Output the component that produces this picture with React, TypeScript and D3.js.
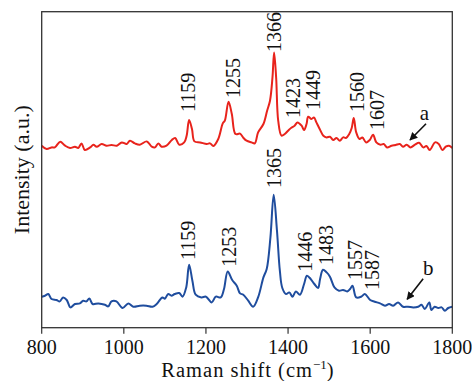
import { useMemo } from "react";
import * as d3 from "d3";

// spectrum a (red): Raman shift (cm-1) / intensity (a.u.)
const redShift = [800, 812, 824, 832, 845, 857, 869, 881, 889, 897, 905, 918, 926, 934, 946, 958, 970, 983, 995, 1007, 1015, 1027, 1039, 1056, 1068, 1076, 1084, 1092, 1104, 1117, 1125, 1135, 1147, 1153, 1159, 1166, 1172, 1186, 1202, 1210, 1218, 1230, 1241, 1246, 1255, 1263, 1272, 1283, 1291, 1299, 1311, 1319, 1327, 1340, 1349, 1356, 1362, 1366, 1371, 1376, 1384, 1392, 1400, 1408, 1416, 1423, 1433, 1439, 1445, 1449, 1457, 1463, 1469, 1477, 1486, 1494, 1502, 1510, 1518, 1526, 1534, 1541, 1549, 1555, 1560, 1566, 1574, 1581, 1590, 1599, 1607, 1615, 1625, 1633, 1641, 1652, 1662, 1672, 1680, 1689, 1698, 1709, 1719, 1729, 1737, 1745, 1758, 1767, 1776, 1784, 1792, 1800];
const redIntensity = [182, 178.7, 180.3, 180.3, 186, 182, 179.7, 181, 179.7, 184.3, 177.7, 180.3, 183, 181, 183.7, 182, 182.7, 182, 185.3, 183.7, 187, 184.3, 183, 186.3, 181, 180.3, 184.3, 181, 182, 187.7, 189.7, 183, 185.3, 192, 207.7, 198.7, 186.3, 185.3, 183.7, 184.3, 181.7, 188.7, 204.3, 207, 226, 213.7, 193.7, 194, 190, 187, 185.3, 184.3, 195.3, 203.7, 217, 227, 250, 275.3, 250, 207, 192, 193.7, 197, 200, 202, 205.3, 202, 197.7, 203.7, 211, 208.7, 210.3, 205.3, 198.7, 192, 190.3, 191, 187.7, 189.7, 187, 190.3, 189.7, 193.7, 199.7, 209.7, 195.3, 188.7, 190.3, 185.3, 187.7, 193, 185.3, 183, 183.7, 180.3, 182, 182.7, 183.7, 181, 183, 180.3, 183, 185, 180.3, 181.7, 177.7, 185.3, 183.7, 177.7, 181, 182, 179.7];

// spectrum b (blue)
const blueShift = [800, 808, 816, 824, 836, 844, 852, 861, 870, 881, 893, 901, 909, 916, 924, 938, 954, 962, 970, 982, 997, 1011, 1023, 1039, 1055, 1070, 1080, 1094, 1100, 1108, 1116, 1124, 1135, 1143, 1152, 1159, 1167, 1175, 1189, 1200, 1214, 1224, 1236, 1244, 1253, 1264, 1275, 1283, 1291, 1303, 1315, 1327, 1340, 1348, 1357, 1365, 1373, 1380, 1386, 1395, 1403, 1411, 1419, 1429, 1439, 1446, 1455, 1464, 1473, 1478, 1485, 1494, 1502, 1513, 1524, 1534, 1544, 1551, 1557, 1566, 1578, 1587, 1600, 1611, 1624, 1636, 1646, 1656, 1668, 1680, 1692, 1705, 1717, 1725, 1733, 1744, 1749, 1757, 1766, 1774, 1782, 1790, 1800];
const blueIntensity = [31, 32, 33.7, 28.7, 27.7, 26.3, 30.3, 27.7, 20.3, 23.7, 24.3, 27, 26.3, 29.3, 23.7, 24.3, 23, 21.3, 26.3, 26.3, 19.7, 24.3, 21, 22, 22, 21, 23.7, 30.3, 29, 33.7, 32, 33.7, 34.7, 31, 40.3, 63, 47, 33, 30.3, 31, 25.3, 31, 30.3, 38.7, 56.3, 47.7, 42, 34.3, 33, 27, 21, 30.3, 50.3, 58.7, 90, 133, 97, 57, 39.7, 33.7, 35.3, 31, 36.3, 33, 43.7, 52, 48.7, 43.7, 39.7, 48.7, 58, 55.3, 51, 40.3, 37, 37.7, 36.3, 38.7, 42, 30.3, 31, 33.7, 27.7, 26, 24.3, 22, 23.7, 22, 25.3, 21, 21, 20.3, 21, 23, 18.7, 25.3, 17.7, 21, 19.7, 20.3, 17, 19.7, 21];

// peak labels: text, shift where the label sits, intensity at label foot
const redLabels = ["1159", "1255", "1366", "1423", "1449", "1560", "1607"];
const redLabelShift = [1157, 1266, 1366, 1413, 1460, 1567, 1617];
const redLabelBase = [215.7, 229.7, 275.7, 209.7, 217.7, 215.7, 197.7];

const blueLabels = ["1159", "1253", "1365", "1446", "1483", "1557", "1587"];
const blueLabelShift = [1157, 1255, 1366, 1441, 1492, 1563, 1604];
const blueLabelBase = [67.7, 61, 139.7, 56, 62.7, 47.7, 37.7];

// curve markers "a" / "b": letter position, arrow tail, arrow head (shift, intensity)
const curveNames = ["a", "b"];
const nameAt = [[1721, 207.7], [1728.6, 52.7]];
const arrowTail = [[1736, 204], [1729, 49]];
const arrowHead = [[1697, 187.7], [1690, 28.4]];

const xTicks = [800, 1000, 1200, 1400, 1600, 1800];

const W = 472;
const H = 381;
const m = { left: 41.7, right: 452.3, top: 11.7, bottom: 327.7 };
const serif = { fontFamily: '"Liberation Serif", "Times New Roman", serif' };

export default function App() {
  const x = useMemo(() => d3.scaleLinear().domain([800, 1800]).range([m.left, m.right]), []);
  const y = useMemo(() => d3.scaleLinear().domain([0, 316]).range([m.bottom, m.top]), []);

  const path = (xs: number[], ys: number[]) =>
    d3
      .line<number>()
      .x((d) => x(xs[d]))
      .y((d) => y(ys[d]))
      .curve(d3.curveCatmullRom.alpha(0.5))(d3.range(xs.length)) as string;

  const labelNodes = (texts: string[], shifts: number[], bases: number[], key: string) =>
    texts.map((t, i) => (
      <text
        key={key + i}
        transform={`translate(${x(shifts[i])},${y(bases[i])}) rotate(-90)`}
        dy="0.35em"
        fontSize={20}
        fill="#111"
        style={serif}
      >
        {t}
      </text>
    ));

  return (
    <svg width={W} height={H} style={{ position: "absolute", left: 0, top: 0, background: "#fff" }}>
      <defs>
        <marker id="ah" viewBox="0 0 10 10" refX="9" refY="5" markerWidth="5" markerHeight="5" orient="auto">
          <path d="M0,0 L10,5 L0,10 Z" fill="#111" />
        </marker>
      </defs>

      {/* spectra */}
      <path d={path(redShift, redIntensity)} fill="none" stroke="#e8231c" strokeWidth={2} strokeLinejoin="round" />
      <path d={path(blueShift, blueIntensity)} fill="none" stroke="#1f4d9e" strokeWidth={2} strokeLinejoin="round" />

      {/* frame */}
      <rect
        x={m.left}
        y={m.top}
        width={m.right - m.left}
        height={m.bottom - m.top}
        fill="none"
        stroke="#333"
        strokeWidth={1.3}
      />
      {xTicks.map((t) => (
        <g key={t} transform={`translate(${x(t)},0)`}>
          <line y1={m.bottom} y2={m.bottom + 6} stroke="#333" strokeWidth={1.2} />
          <text y={354} textAnchor="middle" fontSize={20} fill="#111" style={serif}>
            {t}
          </text>
        </g>
      ))}

      {labelNodes(redLabels, redLabelShift, redLabelBase, "r")}
      {labelNodes(blueLabels, blueLabelShift, blueLabelBase, "b")}

      {curveNames.map((n, i) => (
        <g key={n}>
          <text x={x(nameAt[i][0])} y={y(nameAt[i][1])} fontSize={21} fill="#111" style={serif}>
            {n}
          </text>
          <line
            x1={x(arrowTail[i][0])}
            y1={y(arrowTail[i][1])}
            x2={x(arrowHead[i][0])}
            y2={y(arrowHead[i][1])}
            stroke="#111"
            strokeWidth={1.6}
            markerEnd="url(#ah)"
          />
        </g>
      ))}

      {/* axis titles */}
      <text x={248} y={377} textAnchor="middle" fontSize={20.5} letterSpacing={1} fill="#111" style={serif}>
        Raman shift (cm
        <tspan dy={-8} fontSize={13} letterSpacing={0}>−1</tspan>
        <tspan dy={8}>)</tspan>
      </text>
      <text
        transform={`translate(29,${(m.top + m.bottom) / 2}) rotate(-90)`}
        textAnchor="middle"
        fontSize={22}
        fill="#111"
        style={serif}
      >
        Intensity (a.u.)
      </text>
    </svg>
  );
}
